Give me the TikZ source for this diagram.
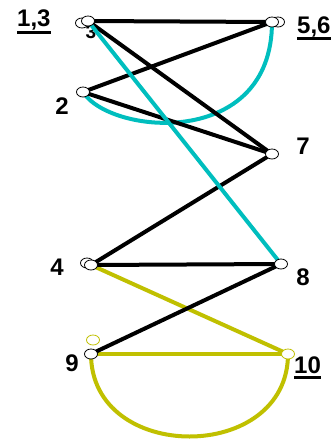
\documentclass[tikz,border=0pt]{standalone}
\usepackage{fontspec}
\setmainfont{Liberation Sans}
\usetikzlibrary{shapes.geometric}
\definecolor{cyanline}{RGB}{0,190,190}
\definecolor{oliveline}{RGB}{192,192,0}
\begin{document}
\begin{tikzpicture}[x=1pt,y=-1pt,
  vtx/.style={ellipse,draw=black,fill=white,line width=0.8pt,minimum width=13pt,minimum height=10pt,inner sep=0pt},
  vtxy/.style={vtx,draw=oliveline},
  lbl/.style={font=\bfseries\fontsize{24}{28}\selectfont,inner sep=0pt},
  blk/.style={line width=4pt,black},
  cyn/.style={line width=4pt,cyanline},
  ylw/.style={line width=4pt,oliveline}]
\useasboundingbox (0,0) rectangle (336,439);
\coordinate (C1) at (82,23);
\coordinate (C3) at (88,21);
\coordinate (C2) at (83,92);
\coordinate (C5) at (272,22);
\coordinate (C6) at (278,22);
\coordinate (C7) at (272,154);
\coordinate (C4a) at (87,263);
\coordinate (C4) at (91,265);
\coordinate (C8) at (281,264);
\coordinate (C9a) at (93,340);
\coordinate (C9) at (91,354);
\coordinate (C10) at (288,354);
% labels
\node[lbl,anchor=base west] (l13) at (17,27) {1,3};
\draw[line width=3pt] ([yshift=-5pt]l13.base west) -- ([yshift=-5pt]l13.base east);
\node[lbl,font=\bfseries\fontsize{19}{22}\selectfont] (l3) at (91,32) {3};
\node[lbl,anchor=base west] (l56) at (297,33) {5,6};
\draw[line width=3pt] ([yshift=-5pt]l56.base west) -- ([yshift=-5pt]l56.base east);
\node[lbl] (l2) at (62,106) {2};
\node[lbl] (l7) at (303,146) {7};
\node[lbl] (l4) at (57,267) {4};
\node[lbl] (l8) at (303,277) {8};
\node[lbl] (l9) at (72,363) {9};
\node[lbl,anchor=base west] (l10) at (294,373) {10};
\draw[line width=3pt] ([yshift=-4pt]l10.base west) -- ([yshift=-4pt]l10.base east);
% edges
\draw[cyn] (C2) .. controls (110,135) and (272,150) .. (C5);
\draw[ylw] (C9) .. controls +(0,110) and +(0,110) .. (C10);
\draw[ylw] (C4) -- (C10);
\draw[ylw] (C9) -- (C10);
\draw[blk] (C3) -- (C5);
\draw[blk] (C3) -- (C7);
\draw[blk] (C2) -- (C5);
\draw[blk] (C2) -- (C7);
\draw[blk] (C7) -- (C4);
\draw[blk] (C4) -- (C8);
\draw[blk] (C8) -- (C9);
\draw[cyn] (C3) -- (C8);
% vertices
\node[vtx] (v1) at (C1) {};
\node[vtx] (v3) at (C3) {};
\node[vtx] (v2) at (C2) {};
\node[vtx] (v6) at (C6) {};
\node[vtx] (v5) at (C5) {};
\node[vtx] (v7) at (C7) {};
\node[vtx] (v4a) at (C4a) {};
\node[vtx] (v4) at (C4) {};
\node[vtx] (v8) at (C8) {};
\node[vtxy] (v9a) at (C9a) {};
\node[vtx] (v9) at (C9) {};
\node[vtxy] (v10) at (C10) {};
\end{tikzpicture}
\end{document}
